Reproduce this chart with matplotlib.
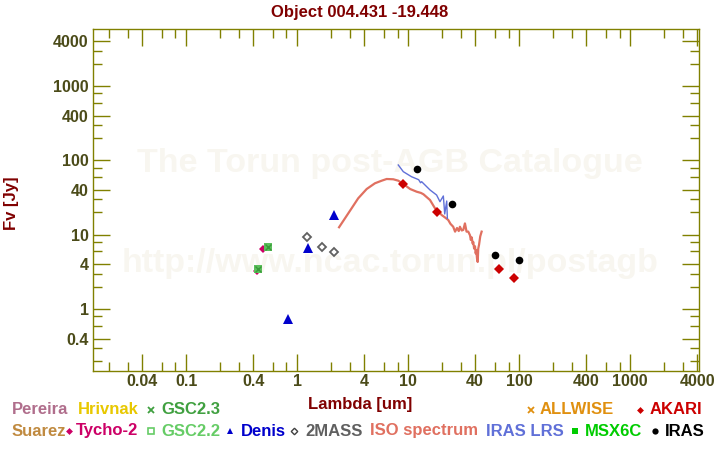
import matplotlib
matplotlib.use("Agg")
import matplotlib.pyplot as plt
from matplotlib.lines import Line2D
from matplotlib.ticker import FixedLocator, FixedFormatter, NullFormatter

plt.rcParams['font.family'] = ['Liberation Sans', 'DejaVu Sans']

title = "Object 004.431 -19.448"

# photometry: wavelength [um], flux [Jy]
tycho_wl = [0.43, 0.49]
tycho_fv = [3.25, 6.36]
gsc22_wl = [0.445, 0.548]
gsc22_fv = [3.42, 6.77]
gsc23_wl = [0.445, 0.548]
gsc23_fv = [3.42, 6.77]
denis_wl = [0.83, 1.25, 2.15]
denis_fv = [0.73, 6.68, 18.6]
tmass_wl = [1.23, 1.67, 2.15]
tmass_fv = [9.23, 6.77, 5.8]
akari_wl = [9.0, 18.0, 65.0, 90.0]
akari_fv = [47.7, 20.0, 3.42, 2.59]
iras_wl = [12.0, 25.0, 60.0, 100.0]
iras_fv = [75.9, 25.7, 5.28, 4.52]

# ISO spectrum
iso_wl = [2.38, 2.69, 3.09, 3.54, 4.22, 5.01, 5.76, 6.39, 7.33, 8.13, 9.02,
          10.4, 11.9, 13.0, 13.7, 14.5, 15.7, 17.4, 20.0, 21.5, 22.9, 24.0,
          25.4, 26.4, 27.5, 28.5, 29.2, 30.3, 31.3, 32.4, 33.5, 34.7, 36.0,
          36.6, 37.3, 38.0, 38.5, 39.2, 39.9, 40.5, 41.0, 41.6, 42.2, 42.7,
          43.4, 44.5, 45.8]
iso_fv = [12.6, 16.6, 22.7, 30.9, 41.2, 49.2, 53.3, 56.2, 55.7, 53.3, 48.1,
          41.2, 37.9, 36.5, 35.0, 32.5, 29.3, 22.7, 18.4, 17.0, 15.8, 14.0,
          12.8, 11.0, 12.3, 11.2, 12.8, 11.4, 11.6, 14.2, 11.0, 11.0, 9.8,
          8.5, 9.2, 7.6, 8.0, 6.5, 7.0, 5.6, 6.2, 4.8, 4.3, 6.5,
          7.3, 9.5, 11.0]

# IRAS LRS spectrum
lrs_wl = [8.13, 9.02, 10.7, 12.4, 12.9, 13.2, 15.7, 18.0, 19.3, 20.7, 21.3, 22.2, 22.5]
lrs_fv = [86.7, 70.5, 60.3, 55.0, 50.0, 51.7, 40.0, 34.2, 27.8, 33.2, 19.0, 28.4, 16.6]

xmajor = [0.04, 0.1, 0.4, 1, 4, 10, 40, 100, 400, 1000, 4000]
xmajor_lab = ["0.04", "0.1", "0.4", "1", "4", "10", "40", "100", "400", "1000", "4000"]
ymajor = [0.4, 1, 4, 10, 40, 100, 400, 1000, 4000]
ymajor_lab = ["0.4", "1", "4", "10", "40", "100", "400", "1000", "4000"]
minor_mult = [2, 3, 6, 8]
decades = [0.01, 0.1, 1, 10, 100, 1000]

olive = '#808000'
ticklab = '#4b4b19'
dred = '#800000'

fig = plt.figure(figsize=(7.2, 4.5), dpi=100)
ax = fig.add_axes([93 / 720, 79 / 450, 606 / 720, 342 / 450])

# watermark
ax.text(0.49, 0.608, "The Torun post-AGB Catalogue", transform=ax.transAxes,
        ha='center', va='center', fontsize=24.5, fontweight='bold', color='#f8f6f0', zorder=0)
ax.text(0.49, 0.313, "http://www.ncac.torun.pl/postagb", transform=ax.transAxes,
        ha='center', va='center', fontsize=24.5, fontweight='bold', color='#f8f6f0', zorder=0)

ax.plot(iso_wl, iso_fv, color='#e07060', lw=1.6, zorder=2)
ax.plot(lrs_wl, lrs_fv, color='#6070d8', lw=1.0, zorder=3)

ax.plot(tycho_wl, tycho_fv, 'D', color='#cc0066', ms=4.5, mew=0, zorder=4)
ax.plot(gsc22_wl, gsc22_fv, 's', color='#5cbf5c', ms=5.5, mew=0, zorder=5)
ax.plot(gsc23_wl, gsc23_fv, 'x', color='#3a9a3a', ms=4.5, mew=1.0, zorder=6)
ax.plot(denis_wl, denis_fv, '^', color='#0000cc', ms=6.5, mew=0, zorder=4)
ax.plot(tmass_wl, tmass_fv, 'D', mfc='none', mec='#606060', ms=4.3, mew=1.3, zorder=4)
ax.plot(akari_wl, akari_fv, 'D', color='#cc0000', ms=4.8, mew=0, zorder=5)
ax.plot(iras_wl, iras_fv, 'o', color='#000000', ms=5.5, mew=0, zorder=5)

ax.set_xscale('log')
ax.set_yscale('log')
ax.set_xlim(10 ** -1.84, 10 ** 3.619)
ax.set_ylim(10 ** -0.834, 10 ** 3.768)

xminor = [m * d for d in decades for m in minor_mult]
yminor = [m * d for d in decades for m in minor_mult]
ax.xaxis.set_major_locator(FixedLocator(xmajor))
ax.xaxis.set_major_formatter(FixedFormatter(xmajor_lab))
ax.xaxis.set_minor_locator(FixedLocator(xminor))
ax.xaxis.set_minor_formatter(NullFormatter())
ax.yaxis.set_major_locator(FixedLocator(ymajor))
ax.yaxis.set_major_formatter(FixedFormatter(ymajor_lab))
ax.yaxis.set_minor_locator(FixedLocator(yminor))
ax.yaxis.set_minor_formatter(NullFormatter())

ax.tick_params(which='both', direction='in', top=True, right=True, color=olive, width=1.0)
ax.tick_params(which='major', length=12.2)
ax.tick_params(which='minor', length=6.5)
ax.tick_params(axis='x', which='major', pad=2, labelsize=11.5, labelcolor=ticklab)
ax.tick_params(axis='y', which='major', pad=3, labelsize=11.5, labelcolor=ticklab)
for lab in ax.get_xticklabels() + ax.get_yticklabels():
    lab.set_fontweight('bold')
for sp in ax.spines.values():
    sp.set_color(olive)
    sp.set_linewidth(1.0)

fig.text(0.5, 0.973, title, ha='center', va='center', fontsize=12, fontweight='bold', color=dred)
fig.text(0.5, 0.102, "Lambda [um]", ha='center', va='center', fontsize=12, fontweight='bold', color=dred)
fig.text(0.016, 0.549, "Fv [Jy]", ha='center', va='center', rotation=90, fontsize=12,
         fontweight='bold', color=dred)

# legend along the bottom: (text x px, row, label, colour, marker, marker x px)
legend_items = [
    (12, 0, "Pereira", '#b06e8c', None, 0),
    (78, 0, "Hrivnak", '#e8c800', None, 0),
    (161, 0, "GSC2.3", '#40a040', 'x', 151),
    (540, 0, "ALLWISE", '#e09010', 'x', 531),
    (650, 0, "AKARI", '#cc0000', 'D', 640),
    (12, 1, "Suarez", '#c08a40', None, 0),
    (76, 1, "Tycho-2", '#cc0066', 'D', 69),
    (161, 1, "GSC2.2", '#66cc66', 's_open', 151),
    (241, 1, "Denis", '#0000cc', '^', 230),
    (305, 1, "2MASS", '#606060', 'D_open', 294),
    (370, 1, "ISO spectrum", '#e07060', None, 0),
    (486, 1, "IRAS LRS", '#6070d8', None, 0),
    (585, 1, "MSX6C", '#00cc00', 's', 575),
    (665, 1, "IRAS", '#000000', 'o', 655),
]
row_y = [410, 431]
for x, row, label, col, mk, mx in legend_items:
    y = 1 - row_y[row] / 450
    fig.text(x / 720, y, label, ha='left', va='center', fontsize=12, fontweight='bold', color=col)
    if mk is None:
        continue
    kw = dict(color=col, ms=4, mew=0)
    if mk == 'x':
        kw = dict(color=col, ms=5, mew=1.3)
    elif mk == 's_open':
        mk = 's'
        kw = dict(mfc='none', mec=col, ms=4.5, mew=1.2)
    elif mk == 'D_open':
        mk = 'D'
        kw = dict(mfc='none', mec='#404040', ms=3.3, mew=1.0)
    elif mk == 'D':
        kw = dict(color=col, ms=3.5, mew=0)
    elif mk == '^':
        kw = dict(color=col, ms=5, mew=0)
    elif mk == 's':
        kw = dict(color=col, ms=5, mew=0)
    elif mk == 'o':
        kw = dict(color=col, ms=4.5, mew=0)
    fig.add_artist(Line2D([mx / 720], [y], marker=mk, linestyle='none',
                          transform=fig.transFigure, **kw))

fig.savefig("out.png", dpi=100)
